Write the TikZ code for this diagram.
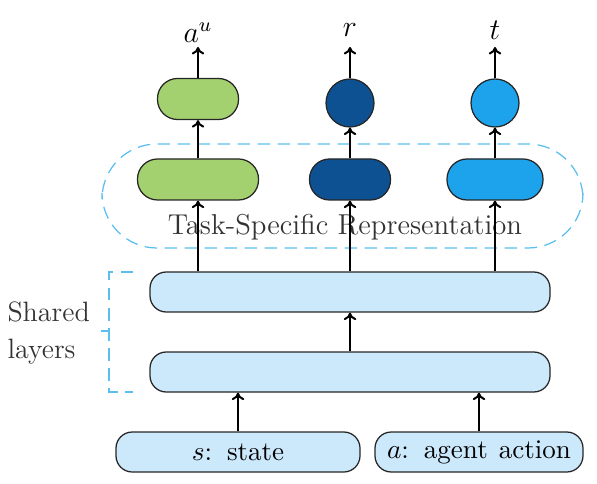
\documentclass[tikz,border=0pt]{standalone}
\usetikzlibrary{arrows.meta}
\definecolor{cgreen}{HTML}{A3D16F}
\definecolor{cdark}{HTML}{0D5192}
\definecolor{clight}{HTML}{1CA3EB}
\definecolor{cpale}{HTML}{CCE8FB}
\definecolor{cdash}{HTML}{5CBEEE}
\begin{document}
\begin{tikzpicture}[x=0.4pt,y=-0.4pt,
  box/.style={draw=black!85,line width=0.5pt,inner sep=0pt},
  pill/.style={box,rounded corners=8pt,minimum height=16.4pt},
  circ/.style={box,circle,minimum size=19.2pt},
  layer/.style={box,fill=cpale,rounded corners=6.5pt,minimum width=160pt,minimum height=16pt},
  inbox/.style={box,fill=cpale,rounded corners=6.5pt,minimum height=16pt,font=\fontsize{10.8}{13}\selectfont},
  arr/.style={-{To[length=3pt,width=5pt]},line width=0.8pt},
  lab/.style={inner sep=1pt,font=\large}]
\useasboundingbox (0,0) rectangle (597,484);
% outputs
\node[pill,fill=cgreen,minimum width=32.4pt,rounded corners=8pt] (o1) at (198,99) {};
\node[circ,fill=cdark] (o2) at (350,103) {};
\node[circ,fill=clight] (o3) at (495,103) {};
\node[lab] (l1) at (198,33) {$a^u$};
\node[lab] (l2) at (350,30) {$r$};
\node[lab] (l3) at (495,30) {$t$};
\coordinate (t1) at (198,47);
\coordinate (t2) at (350,47);
\coordinate (t3) at (495,47);
% task-specific
\draw[cdash,dashed,dash pattern=on 5pt off 3pt,line width=0.5pt,rounded corners=22pt] (102,144) rectangle (583,248);
\node[pill,fill=cgreen,minimum width=48.4pt] (m1) at (198,179.5) {};
\node[pill,fill=cdark,minimum width=32.4pt] (m2) at (350,179.5) {};
\node[pill,fill=clight,minimum width=38.4pt] (m3) at (495,179.5) {};
\node[text=black!80,font=\fontsize{11.5}{14}\selectfont] (tsr) at (345,227) {Task-Specific Representation};
% shared
\node[layer] (s1) at (350,292) {};
\node[layer] (s2) at (350,372) {};
\node[inbox,minimum width=97.6pt] (in1) at (238,452) {$s$:\hspace{6pt}state};
\node[inbox,minimum width=83.2pt] (in2) at (479,452) {$a$:\hspace{6pt}agent\hspace{4.5pt}action};
\node[text=black!80,align=left,anchor=west,inner sep=0pt,font=\fontsize{11.2}{14}\selectfont] (sh) at (7,333) {Shared\\[1pt]layers};
\draw[cdash,dashed,dash pattern=on 5pt off 3pt,line width=0.6pt] (133,272) -- (109,272) -- (109,392) -- (133,392);
\draw[cdash,line width=0.6pt] (109,331) -- (101,331);
% arrows
\draw[arr] (o1.north) -- (t1);
\draw[arr] (o2.north) -- (t2);
\draw[arr] (o3.north) -- (t3);
\draw[arr] (m1.north) -- (o1.south);
\draw[arr] (m2.north) -- (o2.south);
\draw[arr] (m3.north) -- (o3.south);
\draw[arr] (s1.north -| m1) -- (m1.south);
\draw[arr] (s1.north -| m2) -- (m2.south);
\draw[arr] (s1.north -| m3) -- (m3.south);
\draw[arr] (s2.north) -- (s1.south);
\draw[arr] (in1.north) -- (in1.north |- s2.south);
\draw[arr] (in2.north) -- (in2.north |- s2.south);
\end{tikzpicture}
\end{document}
